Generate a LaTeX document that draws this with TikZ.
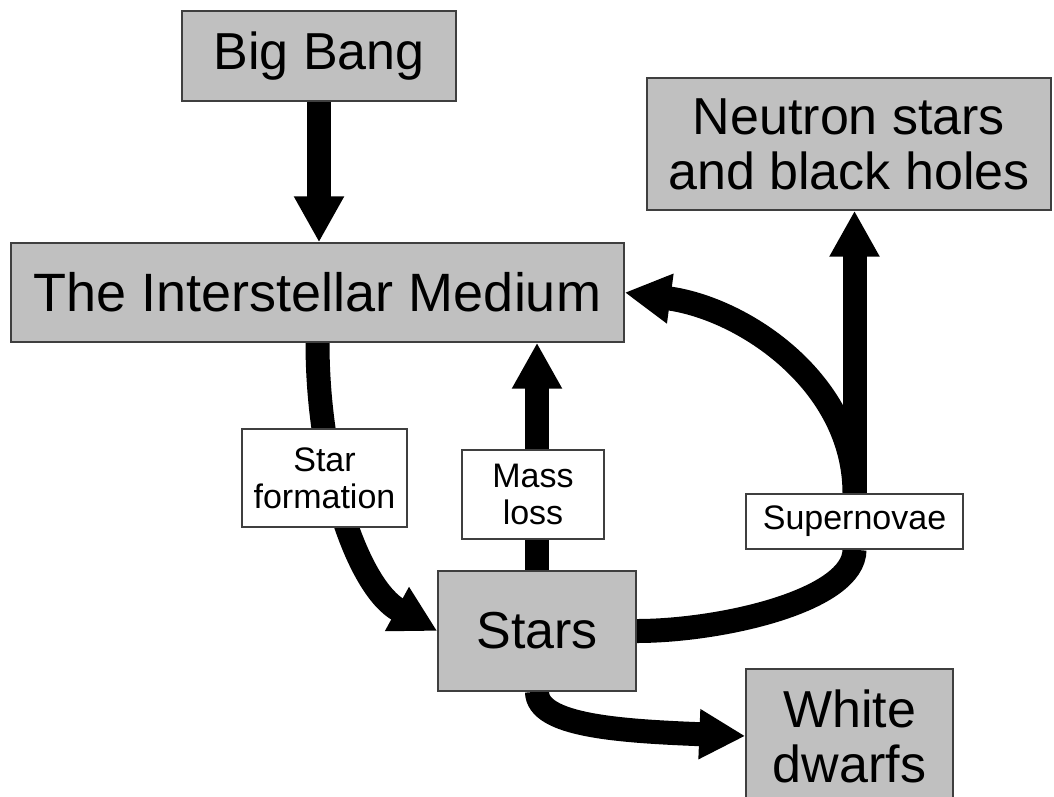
\documentclass[tikz,border=0pt]{standalone}
\usepackage{fontspec}
\setmainfont{Liberation Sans}
\usetikzlibrary{arrows.meta, backgrounds}
\definecolor{stageGray}{HTML}{C0C0C0}
\definecolor{edgeGray}{HTML}{3F3F3F}

\begin{document}
\begin{tikzpicture}[
    x=1pt, y=1pt,
    stage/.style={rectangle, draw=edgeGray, line width=1.4pt, fill=stageGray,
                  inner sep=0pt, align=center,
                  font=\fontsize{52}{55}\selectfont},
    process/.style={rectangle, draw=edgeGray, line width=1.4pt, fill=white,
                    inner sep=0pt, align=center,
                    font=\fontsize{34}{37}\selectfont},
    flowline/.style={line width=24pt},
    flow/.style={flowline, -{Triangle[width=47pt, length=46pt]}},
  ]
    \useasboundingbox (0,0) rectangle (1054,-796);

    \node[stage, minimum width=274pt, minimum height=90pt] (bigbang) at (319,-56) {Big Bang};
    \node[stage, minimum width=404pt, minimum height=132pt] (neutron) at (849,-144)
      {Neutron stars\\and black holes};
    \node[stage, minimum width=613pt, minimum height=99pt,
          font=\fontsize{54}{57}\selectfont] (ism) at (317.5,-292.5)
      {The Interstellar Medium};
    \node[process, minimum width=165pt, minimum height=98pt] (starform) at (324.5,-478)
      {Star\\formation};
    \node[process, minimum width=142pt, minimum height=89pt] (massloss) at (533,-494.5)
      {Mass\\loss};
    \node[process, minimum width=217pt, minimum height=55pt] (supernovae) at (854.5,-521.5)
      {Supernovae};
    \node[stage, minimum width=198pt, minimum height=120pt] (stars) at (537,-631) {Stars};
    \node[stage, minimum width=207pt, minimum height=134pt] (dwarfs) at (849.5,-736)
      {White\\dwarfs};

    \begin{scope}[on background layer]
      \draw[flow] (bigbang.south) -- (bigbang.south |- ism.north);
      \draw[flow] (ism.south) .. controls +(0,-128) and +(-79,43) .. (stars.west);
      \draw[flow] (stars.north) -- (stars.north |- ism.south);
      \draw[flowline] (stars.east) .. controls +(84,0) and +(0,-51) .. (supernovae.south);
      \draw[flow] (supernovae.north) -- (supernovae.north |- neutron.south);
      \draw[flow] (supernovae.north) .. controls +(0,110) and +(120,-16) .. (ism.east);
      \draw[flow] (stars.south) .. controls +(0,-34) and +(-126,5) .. (dwarfs.west);
    \end{scope}
\end{tikzpicture}
\end{document}
